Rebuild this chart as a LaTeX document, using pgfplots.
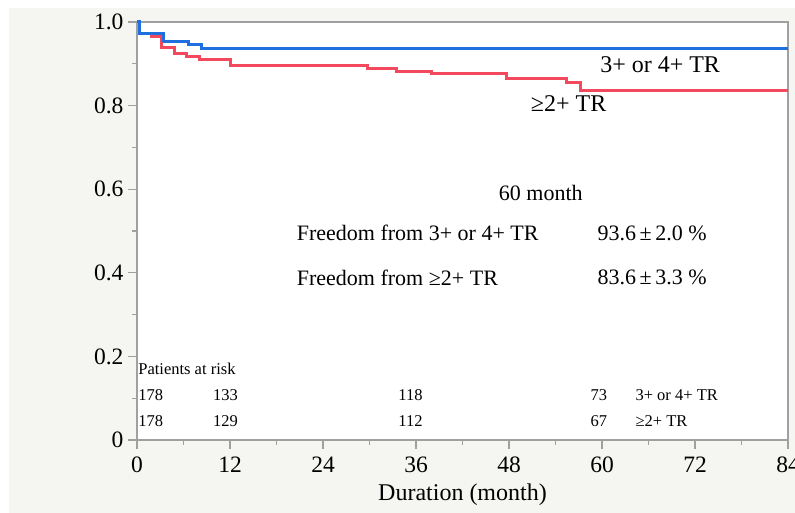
\documentclass[border=0pt]{standalone}
\usepackage{pgfplots}
\pgfplotsset{compat=1.18}
\usepackage{fontspec}
\setmainfont{Liberation Serif}
\definecolor{bgc}{HTML}{F5F5F1}
\definecolor{axc}{HTML}{A0A0A0}
\definecolor{cblue}{HTML}{1F6FDE}
\definecolor{cred}{HTML}{F24A5C}
\begin{document}
\begin{tikzpicture}[x=1pt,y=1pt]
\useasboundingbox (0,0) rectangle (795,513);
\clip (0,0) rectangle (795,513);
\fill[white] (0,0) rectangle (795,513);
\fill[bgc] (9,0) rectangle (795,505);
\begin{axis}[
  at={(137pt,73pt)}, anchor=south west,
  scale only axis, width=651pt, height=418pt,
  xmin=0, xmax=84, ymin=0, ymax=1,
  clip=false,
  axis background/.style={fill=white},
  axis line style={axc, line width=1.4pt},
  every tick/.style={axc, line width=1.2pt},
  tick align=outside,
  major tick length=9pt, minor tick length=5pt,
  xtick pos=left, ytick pos=left,
  xtick={0,12,24,36,48,60,72,84},
  minor xtick={6,18,30,42,54,66,78},
  ytick={0,0.2,0.4,0.6,0.8,1.0},
  yticklabels={0,0.2,0.4,0.6,0.8,1.0},
  minor ytick={0.1,0.3,0.5,0.7,0.9},
  /pgf/number format/assume math mode=true,
  tick label style={font=\fontsize{23.5}{25}\selectfont},
  xticklabel style={yshift=-4pt},
  yticklabel style={xshift=-1pt},
  xlabel={Duration (month)},
  xlabel style={font=\fontsize{24}{26}\selectfont, yshift=-5pt},
]
\addplot[const plot, cblue, line width=3pt] coordinates {
(0,1.0) (0.3,0.973) (3.4,0.953) (6.6,0.945) (8.3,0.937) (84,0.937)};
\addplot[const plot, cred, line width=3pt] coordinates {
(0,1.0) (0.3,0.973) (1.9,0.965) (3.2,0.939) (4.9,0.925) (6.4,0.917) (8.1,0.911) (12.0,0.897) (29.8,0.889) (33.5,0.881) (38.0,0.876) (47.7,0.864) (55.4,0.856) (57.2,0.837) (84,0.837)};
\addplot[const plot, cblue, line width=3pt] coordinates {(0,1.0) (0.3,0.973) (3.4,0.953)};

\node[font=\fontsize{24}{26}\selectfont] at (axis cs:67.5,0.897) {3+ or 4+ TR};
\node[font=\fontsize{24}{26}\selectfont] at (axis cs:55.7,0.804) {≥2+ TR};
\node[font=\fontsize{22}{24}\selectfont] at (axis cs:52.1,0.591) {60 month};
\node[font=\fontsize{22}{24}\selectfont, anchor=west, inner sep=0pt] at (axis cs:20.6,0.495) {Freedom from 3+ or 4+ TR};
\node[font=\fontsize{22}{24}\selectfont, anchor=west, inner sep=0pt] at (axis cs:20.6,0.388) {Freedom from ≥2+ TR};
\node[font=\fontsize{22}{24}\selectfont, anchor=west, inner sep=0pt] at (axis cs:59.4,0.495) {93.6\,±\,2.0 \%};
\node[font=\fontsize{22}{24}\selectfont, anchor=west, inner sep=0pt] at (axis cs:59.4,0.388) {83.6\,±\,3.3 \%};

\begin{scope}[every node/.style={font=\fontsize{16.5}{18}\selectfont, anchor=west, inner sep=0pt}]
\node at (axis cs:0.15,0.170) {Patients at risk};
\node at (axis cs:0.15,0.108) {178};
\node at (axis cs:9.8,0.108) {133};
\node at (axis cs:33.7,0.108) {118};
\node at (axis cs:58.5,0.108) {73};
\node at (axis cs:64.3,0.108) {3+ or 4+ TR};
\node at (axis cs:0.15,0.045) {178};
\node at (axis cs:9.8,0.045) {129};
\node at (axis cs:33.7,0.045) {112};
\node at (axis cs:58.5,0.045) {67};
\node at (axis cs:64.3,0.045) {≥2+ TR};
\end{scope}
\end{axis}
\end{tikzpicture}
\end{document}
